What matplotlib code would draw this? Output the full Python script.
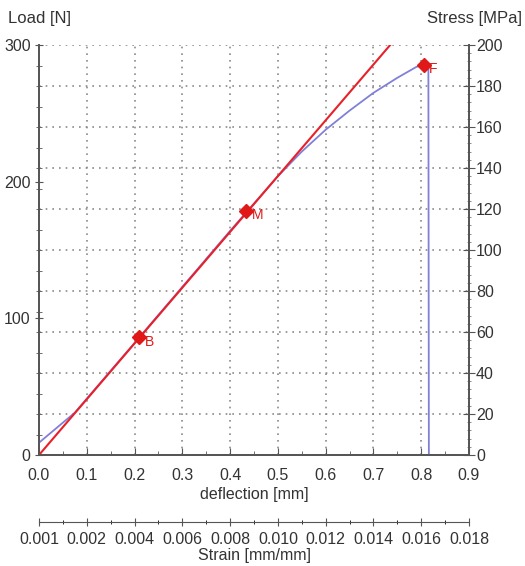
import numpy as np
import matplotlib.pyplot as plt
from matplotlib.ticker import MultipleLocator

plt.rcParams['font.family'] = ['Liberation Sans', 'DejaVu Sans']

# measured curve (deflection mm, load N)
defl = [0.0, 0.075, 0.2, 0.4, 0.45, 0.5, 0.55, 0.6, 0.65, 0.7, 0.75, 0.79, 0.81, 0.815, 0.816]
load = [9, 31, 82, 164, 184, 204, 222, 238, 252, 265, 276, 284, 286, 284, 0]

# fitted straight line
fit_x = [0.0, 0.735]
fit_y = [0.0, 300.0]

# marked points
pt_names = ['B', 'M', 'F']
pt_x = [0.21, 0.434, 0.805]
pt_y = [86, 178.5, 285.5]

defl_ticks = [0.0, 0.1, 0.2, 0.3, 0.4, 0.5, 0.6, 0.7, 0.8, 0.9]
strain_labels = ['0.001', '0.002', '0.004', '0.006', '0.008', '0.010',
                 '0.012', '0.014', '0.016', '0.018']

txt = '#333333'
fs = 11.5
fig = plt.figure(figsize=(5.25, 5.66), dpi=100)
ax = fig.add_axes([39/525, 1-455/566, 430/525, 410/566])
ax2 = ax.twinx()
ax.set_zorder(ax2.get_zorder() + 1)
ax.patch.set_visible(False)

ax.plot(defl, load, color='#8080d8', lw=1.3)
ax.plot(fit_x, fit_y, color='#e8202a', lw=1.5)
ax.plot(pt_x, pt_y, 'D', color='#e01818', ms=7)
for n, x, y in zip(pt_names, pt_x, pt_y):
    ax.annotate(n, (x, y), xytext=(4, -6), textcoords='offset points',
                color='#e01818', fontsize=10)

ax.set_xlim(0, 0.9)
ax.set_ylim(0, 300)
ax2.set_ylim(0, 200)

ax.set_xticks(defl_ticks, [f'{t:.1f}' for t in defl_ticks])
ax.xaxis.set_minor_locator(MultipleLocator(0.05))
ax.set_yticks([0, 100, 200, 300])
ax.yaxis.set_minor_locator(MultipleLocator(15))
ax2.yaxis.set_major_locator(MultipleLocator(20))
ax2.yaxis.set_minor_locator(MultipleLocator(4))

ax.grid(axis='x', color='#8a8a8a', ls=(0, (1, 3)), lw=1.2)
ax2.grid(axis='y', color='#8a8a8a', ls=(0, (1, 3)), lw=1.2)

for a in (ax, ax2):
    a.spines['top'].set_visible(False)
    for s in a.spines.values():
        s.set_color('#555555')
        s.set_linewidth(1.3)
ax.tick_params(axis='x', direction='in', length=5, colors='#555555',
               labelcolor=txt, labelsize=fs, pad=9)
ax.tick_params(axis='x', which='minor', direction='in', length=3, colors='#555555')
ax.tick_params(axis='y', direction='inout', length=6, colors='#555555',
               labelcolor=txt, labelsize=fs, pad=3)
ax.tick_params(axis='y', which='minor', direction='inout', length=5, colors='#555555')
ax2.tick_params(axis='y', direction='inout', length=8, colors='#555555',
                labelcolor=txt, labelsize=fs, pad=1)
ax2.tick_params(axis='y', which='minor', direction='inout', length=3, colors='#777777')

ax.set_xlabel('deflection [mm]', color=txt, fontsize=fs, labelpad=3)

sec = ax.secondary_xaxis(-0.163)
sec.set_xticks(defl_ticks, strain_labels)
sec.xaxis.set_minor_locator(MultipleLocator(0.05))
sec.spines['bottom'].set_color('#555555')
sec.tick_params(axis='x', direction='inout', length=6, colors='#555555',
                labelcolor=txt, labelsize=fs, pad=4)
sec.tick_params(axis='x', which='minor', direction='inout', length=3)
sec.set_xlabel('Strain [mm/mm]', color=txt, fontsize=fs, labelpad=1)

fig.text(8/525, 1-18/566, 'Load [N]', color=txt, fontsize=12, va='center')
fig.text(522/525, 1-18/566, 'Stress [MPa]', color=txt, fontsize=12,
         va='center', ha='right')

fig.savefig('out.png', dpi=100)
